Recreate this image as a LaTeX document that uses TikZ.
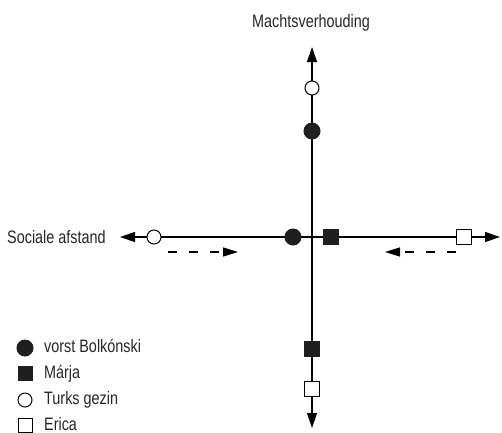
\documentclass[tikz,border=0pt]{standalone}
\usepackage{fontspec}
\setmainfont{Liberation Sans}
\usetikzlibrary{arrows.meta}
% narrow lettering for all labels
\newcommand{\narrowtext}[1]{\scalebox{0.8}[1]{#1}}
\begin{document}
\begin{tikzpicture}[x=1pt,y=-1pt,
  axis/.style={line width=1.2pt,-{Triangle[length=15pt,width=10pt]}},
  moveline/.style={line width=1.2pt,dash pattern=on 9pt off 12pt,-{Triangle[length=15pt,width=9pt]}},
  fcirc/.style={circle,fill=black!88,draw=black!88,line width=1pt,minimum size=16pt,inner sep=0pt},
  ocirc/.style={circle,fill=white,draw=black,line width=1pt,minimum size=14pt,inner sep=0pt},
  fsq/.style={rectangle,fill=black!88,draw=black!88,line width=1pt,minimum size=15pt,inner sep=0pt},
  osq/.style={rectangle,fill=white,draw=black,line width=1pt,minimum size=15pt,inner sep=0pt},
  lbl/.style={font=\fontsize{18}{20}\selectfont,text=black!85,inner sep=0pt}]
\useasboundingbox (0,0) rectangle (502,432);

% axes
\coordinate (top) at (312,47);
\coordinate (bot) at (312,428);
\coordinate (lft) at (120,237);
\coordinate (rgt) at (500,237);
\draw[axis] (312,240) -- (top);
\draw[axis] (312,234) -- (bot);
\draw[axis] (315,237) -- (lft);
\draw[axis] (309,237) -- (rgt);

% axis titles
\node[lbl,anchor=base] (machts) at (311,27) {\narrowtext{Machtsverhouding}};
\node[lbl,anchor=base west] (sociaal) at (7,243) {\narrowtext{Sociale afstand}};

% positions on the axes
\node[ocirc] (turksV) at (312,88) {};
\node[fcirc] (bolkV) at (312,131) {};
\node[fsq] (marjaV) at (312,349) {};
\node[osq] (ericaV) at (312,389) {};
\node[ocirc] (turksH) at (154,237) {};
\node[fcirc] (bolkH) at (293,237) {};
\node[fsq] (marjaH) at (331,237) {};
\node[osq] (ericaH) at (464,237) {};

% movement along the social-distance axis
\coordinate (d1a) at (168,252);
\coordinate (d1b) at (238,252);
\coordinate (d2a) at (456,252);
\coordinate (d2b) at (385,252);
\draw[moveline] (d1a) -- (d1b);
\draw[moveline] (d2a) -- (d2b);

% legend
\node[fcirc] (k1) at (25,348) {};
\node[fsq,minimum size=14pt] (k2) at (25,373) {};
\node[ocirc] (k3) at (25,400) {};
\node[osq,minimum size=14pt] (k4) at (25,425) {};
\node[lbl,anchor=base west] (t1) at (44,352.5) {\narrowtext{vorst Bolkónski}};
\node[lbl,anchor=base west] (t2) at (44,378) {\narrowtext{Márja}};
\node[lbl,anchor=base west] (t3) at (44,404.5) {\narrowtext{Turks gezin}};
\node[lbl,anchor=base west] (t4) at (44,430) {\narrowtext{Erica}};
\end{tikzpicture}
\end{document}
